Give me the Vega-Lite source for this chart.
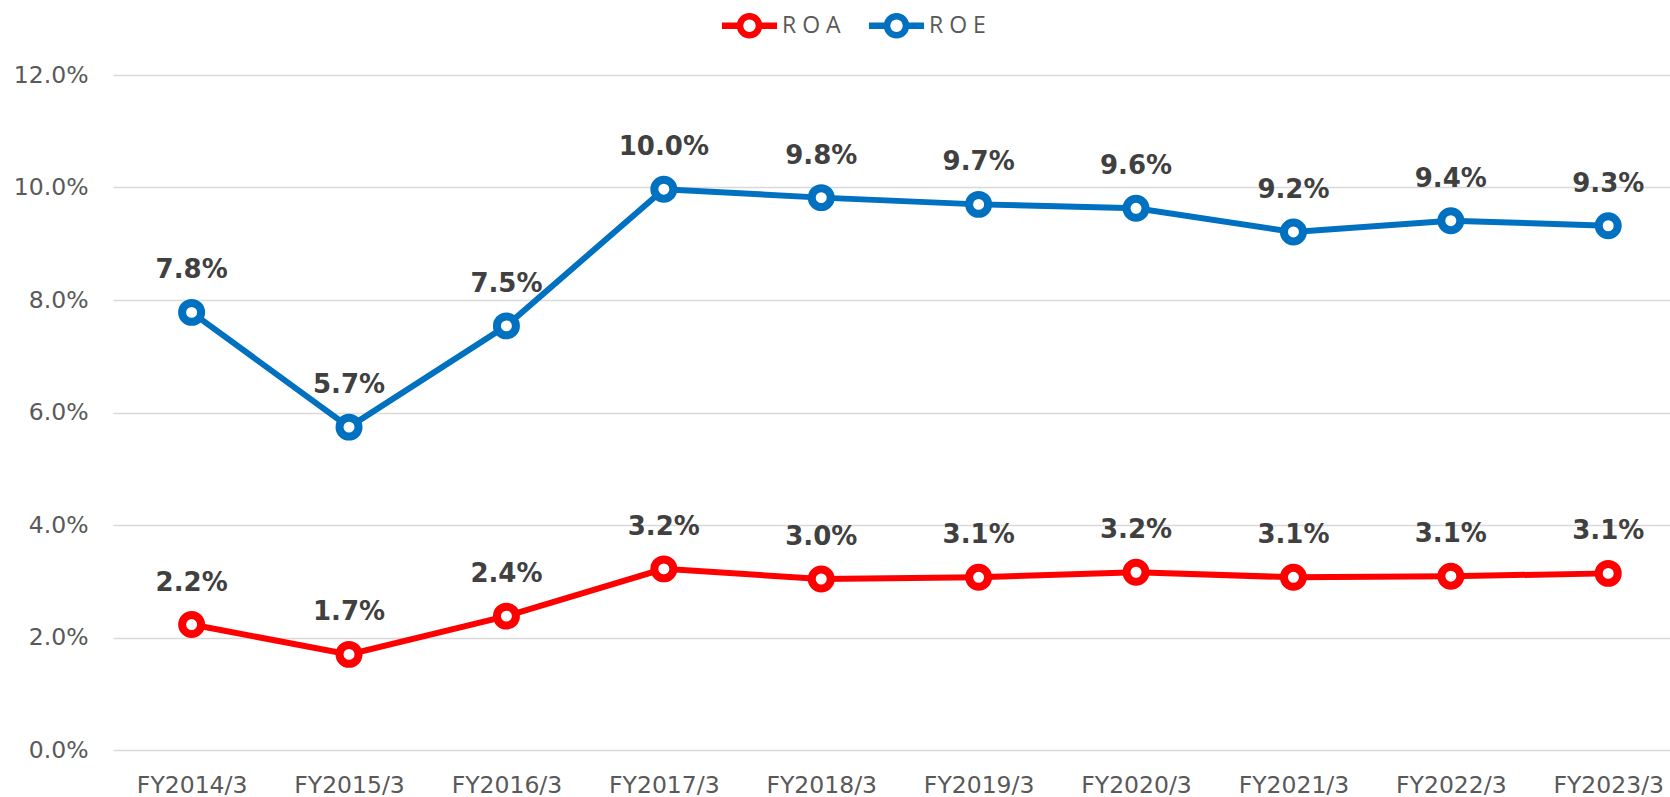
{
  "$schema": "https://vega.github.io/schema/vega-lite/v6.json",
  "width": 1557,
  "height": 675,
  "autosize": "none",
  "padding": {"left": 113, "top": 75, "right": 0, "bottom": 47},
  "background": "white",
  "config": {
    "view": {"stroke": null},
    "axis": {"labelFont": "DejaVu Sans", "labelFontSize": 23.5, "labelColor": "#595959", "ticks": false, "tickSize": 0, "domain": false, "title": null}
  },
  "data": {
    "values": [
      {"year": "FY2014/3", "series": "ROA", "value": 0.0223},
      {"year": "FY2015/3", "series": "ROA", "value": 0.0170},
      {"year": "FY2016/3", "series": "ROA", "value": 0.0238},
      {"year": "FY2017/3", "series": "ROA", "value": 0.0322},
      {"year": "FY2018/3", "series": "ROA", "value": 0.0304},
      {"year": "FY2019/3", "series": "ROA", "value": 0.0307},
      {"year": "FY2020/3", "series": "ROA", "value": 0.0316},
      {"year": "FY2021/3", "series": "ROA", "value": 0.0307},
      {"year": "FY2022/3", "series": "ROA", "value": 0.0309},
      {"year": "FY2023/3", "series": "ROA", "value": 0.0314},
      {"year": "FY2014/3", "series": "ROE", "value": 0.0778},
      {"year": "FY2015/3", "series": "ROE", "value": 0.0574},
      {"year": "FY2016/3", "series": "ROE", "value": 0.0754},
      {"year": "FY2017/3", "series": "ROE", "value": 0.0997},
      {"year": "FY2018/3", "series": "ROE", "value": 0.0982},
      {"year": "FY2019/3", "series": "ROE", "value": 0.0970},
      {"year": "FY2020/3", "series": "ROE", "value": 0.0963},
      {"year": "FY2021/3", "series": "ROE", "value": 0.0921},
      {"year": "FY2022/3", "series": "ROE", "value": 0.0941},
      {"year": "FY2023/3", "series": "ROE", "value": 0.0932}
    ]
  },
  "encoding": {
    "x": {
      "field": "year", "type": "nominal", "sort": null,
      "scale": {"type": "point", "padding": 0.446, "align": 0.56},
      "axis": {"labelAngle": 0, "labelPadding": 23, "grid": false}
    },
    "y": {
      "field": "value", "type": "quantitative",
      "scale": {"domain": [0, 0.12], "nice": false, "zero": true},
      "axis": {"values": [0, 0.02, 0.04, 0.06, 0.08, 0.1, 0.12], "format": ".1%", "labelPadding": 25, "grid": true, "gridColor": "#D9D9D9", "gridWidth": 1.5}
    }
  },
  "layer": [
    {
      "mark": {"type": "line", "strokeWidth": 6},
      "encoding": {
        "color": {
          "field": "series", "type": "nominal",
          "scale": {"domain": ["ROA", "ROE"], "range": ["#FF0000", "#0070C0"]},
          "legend": {
            "title": null,
            "orient": "none",
            "direction": "horizontal",
            "legendX": 623.5,
            "legendY": -62.5,
            "padding": 0,
            "symbolType": "M -2.9 0 L -1 0 M 1 0 L 2.9 0 M -1 0 A 1 1 0 1 0 1 0 A 1 1 0 1 0 -1 0 Z",
            "symbolSize": 361,
            "symbolStrokeWidth": 6.5,
            "symbolFillColor": "white",
            "labelFont": "Open Sans",
            "labelFontSize": 23,
            "labelColor": "#595959",
            "labelOffset": 19.5,
            "columnPadding": 14,
            "labelExpr": "join(split(datum.label, ''), ' ')",
            "encode": {"symbols": {"update": {"fill": {"value": "white"}, "strokeWidth": {"value": 6.5}}}}
          }
        }
      }
    },
    {
      "mark": {"type": "point", "shape": "circle", "filled": false, "fill": "white", "fillOpacity": 1, "opacity": 1, "size": 360, "strokeWidth": 8},
      "encoding": {
        "color": {"field": "series", "type": "nominal"}
      }
    },
    {
      "mark": {"type": "text", "font": "DejaVu Sans", "fontWeight": "bold", "fontSize": 26, "color": "#404040", "dy": -42, "baseline": "middle"},
      "encoding": {
        "text": {"field": "value", "type": "quantitative", "format": ".1%"}
      }
    }
  ]
}
